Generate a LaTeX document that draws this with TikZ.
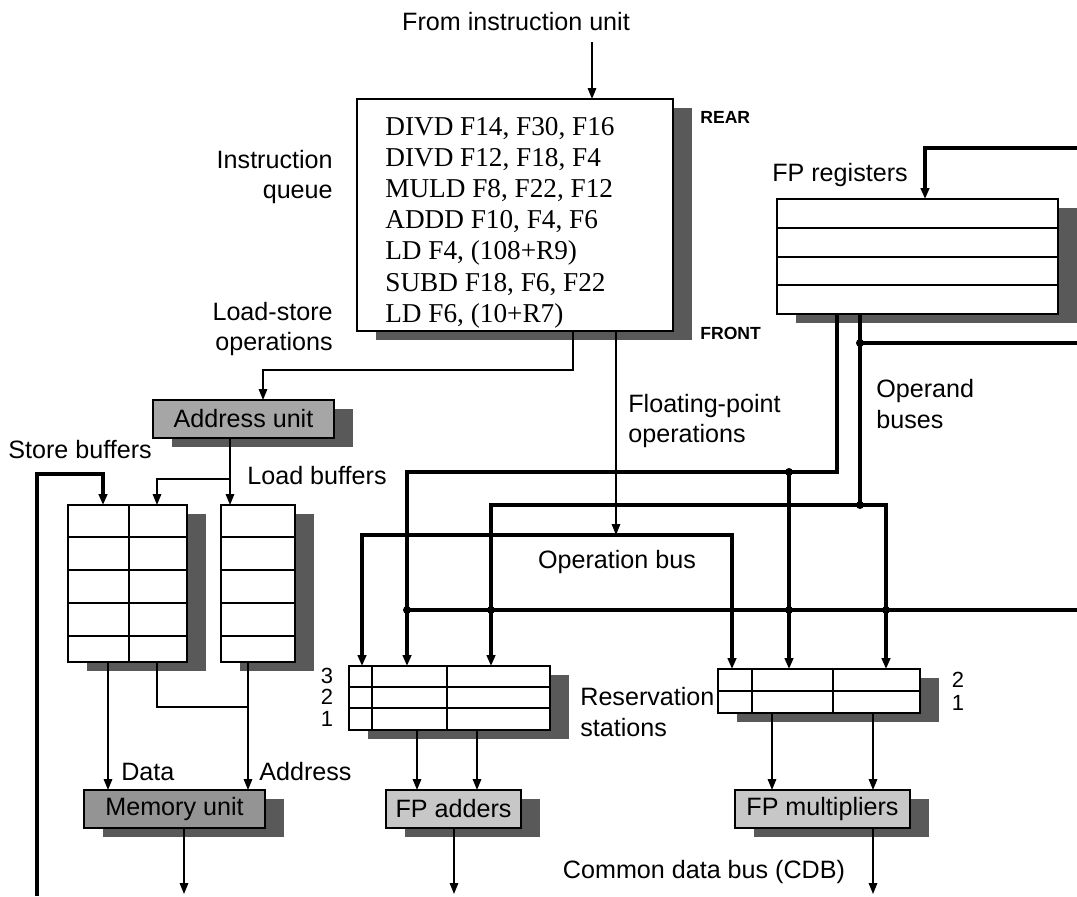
\documentclass[tikz,border=0pt]{standalone}
\usepackage{fontspec}
\setmainfont{Liberation Serif}
\setsansfont{Liberation Sans}
\usetikzlibrary{arrows.meta,shadows}

\begin{document}
\begin{tikzpicture}[x=0.02cm,y=-0.02cm,
  >={Triangle[length=0.22cm,width=0.17cm]},
  box/.style={draw,line width=1.1pt,fill=white,inner sep=0pt,outer sep=0pt,
    general shadow={fill=black!65,shadow xshift=0.38cm,shadow yshift=-0.18cm}},
  unit/.style={box,font=\sffamily\fontsize{14.3}{17}\selectfont},
  lbl/.style={font=\sffamily\fontsize{14.3}{17.6}\selectfont,inner sep=0pt},
  num/.style={font=\sffamily\fontsize{12.5}{14}\selectfont,inner sep=0pt},
  tag/.style={font=\sffamily\bfseries\fontsize{10}{12}\selectfont,inner sep=0pt},
  instr/.style={font=\fontsize{15.5}{18}\selectfont,inner sep=0pt},
  bus/.style={line width=2pt},
  wire/.style={line width=0.9pt}]
  \useasboundingbox (0,0) rectangle (1077,896);

  % instruction queue
  \node[lbl] (from) at (516,22) {From instruction unit};
  \node[box,minimum width=6.32cm,minimum height=4.64cm] (queue) at (515,215) {};
  \foreach \t [count=\i from 0] in {{DIVD F14, F30, F16},{DIVD F12, F18, F4},
      {MULD F8, F22, F12},{ADDD F10, F4, F6},{LD F4, (108+R9)},
      {SUBD F18, F6, F22},{LD F6, (10+R7)}}
    \node[instr,anchor=base west] (ins\i) at (385,{135+31.2*\i}) {\t};
  \node[tag,anchor=west] (rear) at (700,117) {REAR};
  \node[tag,anchor=west] (front) at (700,333) {FRONT};
  \node[lbl,align=right,anchor=east] (iq) at (333,177) {Instruction\\queue};
  \node[lbl,align=right,anchor=east] (lso) at (333,329) {Load-store\\operations};

  % FP registers
  \node[box,minimum width=5.62cm,minimum height=2.3cm] (fpregs) at (917.5,256.5) {};
  \foreach \y in {228,257,285}
    \draw[line width=1.1pt] (777,\y) -- (1058,\y);
  \node[lbl] (fprl) at (840,175) {FP registers};

  % address unit and buffers
  \node[unit,fill=black!35,minimum width=3.62cm,minimum height=0.76cm] (addr) at (243.5,419) {Address unit};
  \node[lbl,anchor=west] (sbl) at (8,450) {Store buffers};
  \node[lbl,anchor=west] (lbl) at (247,476) {Load buffers};
  \node[box,minimum width=2.38cm,minimum height=3.14cm] (stbuf) at (127.5,583.5) {};
  \node[box,minimum width=1.48cm,minimum height=3.14cm] (ldbuf) at (258,583.5) {};
  \foreach \y in {537,570,603,636} {
    \draw[line width=1.1pt] (68,\y) -- (187,\y);
    \draw[line width=1.1pt] (221,\y) -- (295,\y);
  }
  \draw[line width=1.1pt] (129,505) -- (129,662);

  % reservation stations
  \node[box,minimum width=4.02cm,minimum height=1.28cm] (addrs) at (449.5,698) {};
  \foreach \y in {687,708}
    \draw[line width=1.1pt] (349,\y) -- (550,\y);
  \foreach \x in {372,447}
    \draw[line width=1.1pt] (\x,666) -- (\x,730);
  \node[box,minimum width=4.04cm,minimum height=0.88cm] (mulrs) at (819,691) {};
  \draw[line width=1.1pt] (718,691) -- (920,691);
  \foreach \x in {752,833}
    \draw[line width=1.1pt] (\x,669) -- (\x,713);
  \foreach \n/\y in {3/676,2/697,1/719}
    \node[num] (a\n) at (327,\y) {\n};
  \foreach \n/\y in {2/680,1/703}
    \node[num] (m\n) at (958,\y) {\n};
  \node[lbl,align=left,anchor=west] (rsl) at (580,712) {Reservation\\stations};

  % functional units
  \node[unit,fill=black!42,minimum width=3.62cm,minimum height=0.76cm] (mem) at (174.5,809) {Memory unit};
  \node[unit,fill=black!22,minimum width=2.7cm,minimum height=0.76cm] (fpadd) at (453.5,809) {FP adders};
  \node[unit,fill=black!22,minimum width=3.5cm,minimum height=0.76cm] (fpmul) at (822.5,809) {FP multipliers};
  \node[lbl,anchor=west] (datl) at (121,772) {Data};
  \node[lbl,anchor=west] (adl) at (259,772) {Address};

  % bus labels
  \node[lbl,align=left,anchor=west] (fpol) at (628,421) {Floating-point\\operations};
  \node[lbl,align=left,anchor=west] (opl) at (876,404) {Operand\\buses};
  \node[lbl] (obl) at (617,562) {Operation bus};
  \node[lbl] (cdbl) at (704,872) {Common data bus (CDB)};

  % from the instruction unit
  \coordinate (iu) at (592,42);
  \draw[wire,->] (iu) -- (iu |- queue.north);
  \coordinate (ls) at (573,370);
  \coordinate (lsin) at (263,370);
  \draw[wire,->] (queue.south -| ls) -- (ls) -- (lsin) -- (lsin |- addr.north);
  \coordinate (fpo) at (616,535);
  \draw[wire,->] (queue.south -| fpo) -- (fpo);

  % operation bus
  \coordinate (ob1) at (362,535);
  \coordinate (ob2) at (732,535);
  \draw[bus,<->] (addrs.north -| ob1) -- (ob1) -- (ob2) -- (mulrs.north -| ob2);

  % operand buses
  \coordinate (oa) at (837,472);
  \coordinate (oa1) at (407,472);
  \coordinate (oa2) at (789,472);
  \draw[bus,->] (fpregs.south -| oa) -- (oa) -- (oa1) -- (addrs.north -| oa1);
  \draw[bus,->] (oa2) -- (mulrs.north -| oa2);
  \coordinate (ob) at (860,505);
  \coordinate (ob3) at (491,505);
  \coordinate (ob4) at (886,505);
  \draw[bus] (fpregs.south -| ob) -- (ob);
  \draw[bus,<->] (addrs.north -| ob3) -- (ob3) -- (ob4) -- (mulrs.north -| ob4);

  % common data bus
  \coordinate (cdb) at (407,610);
  \coordinate (cdbr) at (1077,610);
  \draw[bus] (cdb) -- (cdbr);
  \coordinate (cdbin) at (860,343);
  \coordinate (cdbinr) at (1077,343);
  \draw[bus] (cdbin) -- (cdbinr);
  \coordinate (fb) at (925,148);
  \coordinate (fbr) at (1077,148);
  \draw[bus,->] (fbr) -- (fb) -- (fpregs.north -| fb);
  \foreach \p in {oa2,ob,cdbin}
    \fill (\p) circle[radius=0.08cm];
  \foreach \x in {407,491,789,886}
    \fill (\x,610) circle[radius=0.08cm];

  % store and load buffers
  \coordinate (sbb) at (37,896);
  \coordinate (sbc) at (37,474);
  \coordinate (sbin) at (103,474);
  \draw[bus,->] (sbb) -- (sbc) -- (sbin) -- (stbuf.north -| sbin);
  \coordinate (au) at (230,479);
  \coordinate (au2) at (157,479);
  \draw[wire,->] (addr.south -| au) -- (ldbuf.north -| au);
  \draw[wire,->] (au) -- (au2) -- (stbuf.north -| au2);
  \coordinate (dat) at (108,707);
  \coordinate (sa) at (157,707);
  \coordinate (la) at (248,707);
  \draw[wire,->] (stbuf.south -| dat) -- (mem.north -| dat);
  \draw[wire] (stbuf.south -| sa) -- (sa) -- (la);
  \draw[wire,->] (ldbuf.south -| la) -- (mem.north -| la);

  % into the functional units
  \foreach \x [count=\i] in {417,477} {
    \coordinate (ai\i) at (\x,0);
    \draw[wire,->] (addrs.south -| ai\i) -- (fpadd.north -| ai\i);
  }
  \foreach \x [count=\i] in {772,873} {
    \coordinate (mi\i) at (\x,0);
    \draw[wire,->] (mulrs.south -| mi\i) -- (fpmul.north -| mi\i);
  }

  % onto the common data bus
  \coordinate (memo) at (184,894);
  \coordinate (addo) at (454,894);
  \coordinate (mulo) at (873,894);
  \draw[wire,->] (mem.south -| memo) -- (memo);
  \draw[wire,->] (fpadd.south -| addo) -- (addo);
  \draw[wire,->] (fpmul.south -| mulo) -- (mulo);
\end{tikzpicture}
\end{document}
